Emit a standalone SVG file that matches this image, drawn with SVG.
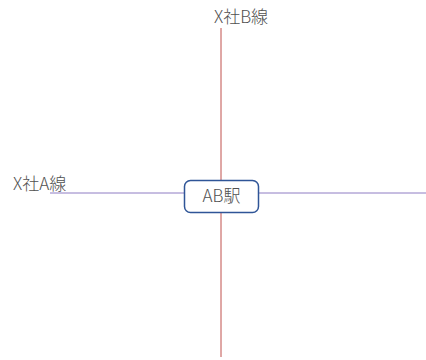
<svg xmlns="http://www.w3.org/2000/svg" width="426" height="360" viewBox="0 0 426 360">
<style>
.lbl{font-family:"Noto Sans CJK JP","Noto Sans",sans-serif;font-size:17px;font-weight:300;fill:#505050}
.line-a{stroke:#8e7cc3;stroke-width:1}
.line-b{stroke:#c0504d;stroke-width:1}
.stn{fill:#ffffff;stroke:#2f5597;stroke-width:1.5}
</style>
<rect width="426" height="360" fill="#ffffff"/>
<g id="connectors">
<line class="line-b" x1="221" y1="28" x2="221" y2="357"/>
<line class="line-a" x1="50" y1="193" x2="426" y2="193"/>
</g>
<g id="label-b"><text class="lbl" x="241" y="23" text-anchor="middle">X社B線</text></g>
<g id="label-a"><text class="lbl" x="13" y="190">X社A線</text></g>
<g id="station">
<rect class="stn" x="184.5" y="180.5" width="74" height="32" rx="6"/>
<text class="lbl" x="221.5" y="202" text-anchor="middle" font-size="15">AB駅</text>
</g>
</svg>
